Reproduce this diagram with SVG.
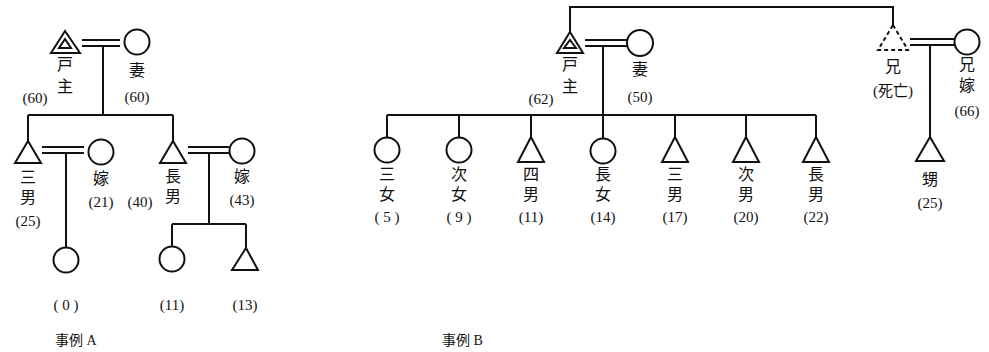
<svg xmlns="http://www.w3.org/2000/svg" width="989" height="352" viewBox="0 0 989 352">
<style>
.s{fill:none;stroke:#111;stroke-width:2}
.d{fill:none;stroke:#111;stroke-width:2;stroke-dasharray:4 3}
.t{font-family:"Liberation Serif","Noto Sans CJK JP",serif;font-size:16px;fill:#111;text-anchor:middle}
.n{font-family:"Liberation Serif","Noto Sans CJK JP",serif;font-size:15px;fill:#111;text-anchor:middle}
.c{font-family:"Liberation Serif","Noto Sans CJK JP",serif;font-size:14px;fill:#111}
</style>
<rect width="989" height="352" fill="#fff"/>
<g id="connectors">
<path class="s" d="M82 40H120M82 46H120M103 46V115M28 115H173M28 115V141M173 115V141"/>
<path class="s" d="M42 147H84M42 153H84M66 153V247"/>
<path class="s" d="M188 147H229M188 153H229M209 153V224M172 224H246M172 224V247M246 224V248"/>
<path class="s" d="M570 32V7H893V25"/>
<path class="s" d="M585 40H627M585 46H627M603 46V138M387 115H816"/>
<path class="s" d="M387 115V138M459 115V138M531 115V137M675 115V137M746 115V137M816 115V137"/>
<path class="s" d="M910 39H954M910 45H954M930 45V137"/>
</g>
<g id="koshuA"><path class="s" d="M65 31L80 53H51Z"/><path class="s" d="M65 39L71 48H59Z"/><text class="t" x="65" y="70">戸</text><text class="t" x="65" y="92">主</text><text class="n" x="35" y="103">(60)</text></g>
<g id="tsumaA"><circle class="s" cx="137" cy="42" r="12.5"/><text class="t" x="137" y="76">妻</text><text class="n" x="137" y="102">(60)</text></g>
<g id="sannanA"><path class="s" d="M28 141L41 163H15Z"/><text class="t" x="28" y="183">三</text><text class="t" x="28" y="203">男</text><text class="n" x="28" y="226">(25)</text></g>
<g id="yome1A"><circle class="s" cx="101" cy="152" r="12.5"/><text class="t" x="101" y="184">嫁</text><text class="n" x="101" y="207">(21)</text></g>
<g id="chounanA"><path class="s" d="M173 141L186 163H160Z"/><text class="t" x="173" y="182">長</text><text class="t" x="173" y="202">男</text><text class="n" x="140" y="207">(40)</text></g>
<g id="yome2A"><circle class="s" cx="242" cy="151" r="12.5"/><text class="t" x="242" y="182">嫁</text><text class="n" x="242" y="205">(43)</text></g>
<g id="child0A"><circle class="s" cx="66" cy="260" r="12.5"/><text class="n" x="66" y="310">( 0 )</text></g>
<g id="child11A"><circle class="s" cx="172" cy="259" r="12.5"/><text class="n" x="172" y="310">(11)</text></g>
<g id="child13A"><path class="s" d="M246 248L258 270H232Z"/><text class="n" x="245" y="310">(13)</text></g>
<text class="c" x="55" y="345">事例 A</text>
<g id="koshuB"><path class="s" d="M570 32L583 53H557Z"/><path class="s" d="M570 40L576 48H564Z"/><text class="t" x="570" y="70">戸</text><text class="t" x="570" y="92">主</text><text class="n" x="541" y="104">(62)</text></g>
<g id="tsumaB"><circle class="s" cx="640" cy="43" r="13"/><text class="t" x="640" y="75">妻</text><text class="n" x="640" y="102">(50)</text></g>
<g id="sanjo"><circle class="s" cx="387" cy="150" r="12.5"/><text class="t" x="387" y="180">三</text><text class="t" x="387" y="200">女</text><text class="n" x="387" y="222">( 5 )</text></g>
<g id="jijo"><circle class="s" cx="459" cy="150" r="12.5"/><text class="t" x="459" y="180">次</text><text class="t" x="459" y="200">女</text><text class="n" x="459" y="222">( 9 )</text></g>
<g id="yonnan"><path class="s" d="M531 137L544 162H518Z"/><text class="t" x="531" y="180">四</text><text class="t" x="531" y="200">男</text><text class="n" x="531" y="222">(11)</text></g>
<g id="choujo"><circle class="s" cx="603" cy="151" r="12.5"/><text class="t" x="603" y="180">長</text><text class="t" x="603" y="200">女</text><text class="n" x="603" y="222">(14)</text></g>
<g id="sannanB"><path class="s" d="M675 137L688 162H662Z"/><text class="t" x="675" y="180">三</text><text class="t" x="675" y="200">男</text><text class="n" x="675" y="222">(17)</text></g>
<g id="jinanB"><path class="s" d="M746 137L759 162H733Z"/><text class="t" x="746" y="180">次</text><text class="t" x="746" y="200">男</text><text class="n" x="746" y="222">(20)</text></g>
<g id="chounanB"><path class="s" d="M816 137L829 162H803Z"/><text class="t" x="816" y="180">長</text><text class="t" x="816" y="200">男</text><text class="n" x="816" y="222">(22)</text></g>
<g id="ani"><path class="d" d="M893 25L908 50H878Z"/><text class="t" x="893" y="72">兄</text><text class="n" x="893" y="96">(死亡)</text></g>
<g id="aniyome"><circle class="s" cx="967" cy="42" r="12.5"/><text class="t" x="967" y="70">兄</text><text class="t" x="967" y="91">嫁</text><text class="n" x="967" y="116">(66)</text></g>
<g id="oi"><path class="s" d="M930 137L944 161H916Z"/><text class="t" x="930" y="185">甥</text><text class="n" x="930" y="208">(25)</text></g>
<text class="c" x="442" y="345">事例 B</text>
</svg>
